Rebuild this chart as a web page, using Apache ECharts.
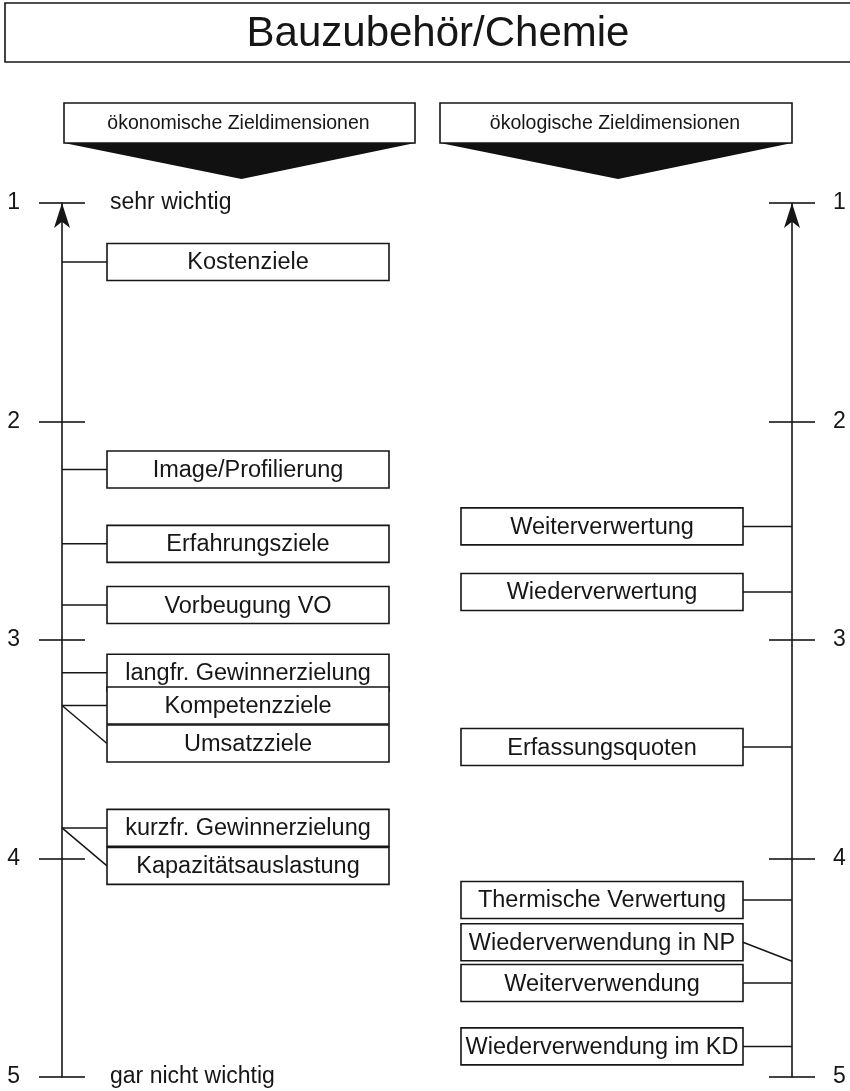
<!DOCTYPE html>
<html>
<head>
<meta charset="utf-8">
<script src="https://cdn.jsdelivr.net/npm/echarts@6.0.0/dist/echarts.min.js"></script>
<style>
  html, body { margin: 0; padding: 0; background: #fff; }
  #chart { width: 850px; height: 1091px; }
</style>
</head>
<body>
<div id="chart"></div>
<script>
const titleText = "Bauzubehör/Chemie";
const headerTexts = ["ökonomische Zieldimensionen", "ökologische Zieldimensionen"];
const tickLabels = ["1", "2", "3", "4", "5"];
const endLabels = ["sehr wichtig", "gar nicht wichtig"];

// ökonomische Ziele (linke Skala)
const econLabels = [
    "Kostenziele", "Image/Profilierung", "Erfahrungsziele", "Vorbeugung VO",
    "langfr. Gewinnerzielung", "Kompetenzziele", "Umsatzziele",
    "kurzfr. Gewinnerzielung", "Kapazitätsauslastung",
];
const econValues = [1.27, 2.22, 2.56, 2.84, 3.15, 3.30, 3.30, 3.86, 3.86];

// ökologische Ziele (rechte Skala)
const ecoLabels = [
    "Weiterverwertung", "Wiederverwertung", "Erfassungsquoten", "Thermische Verwertung",
    "Wiederverwendung in NP", "Weiterverwendung", "Wiederverwendung im KD",
];
const ecoValues = [2.48, 2.78, 3.49, 4.19, 4.47, 4.57, 4.86];

// layout only: box shift in box heights when labels share a value
const econBoxShift = [0, 0, 0, 0, 0, 0, 1, 0, 1];
const ecoBoxShift = [0, 0, 0, 0, -0.5, 0, 0];

const FONT = "Liberation Sans, Arial, Helvetica, sans-serif";
const INK = "#161616";
const BOX_W = 282;
const BOX_H = 37;
const BOX_STEP = 38;

function sideSeries(labels, values, shifts, side) {
    const left = side === "left";
    return {
        type: "custom",
        coordinateSystem: "cartesian2d",
        xAxisIndex: 0,
        yAxisIndex: left ? 0 : 2,
        silent: true,
        data: values.map((v, i) => [left ? 0 : 1, v, i]),
        renderItem: (params, api) => {
            const i = api.value(2);
            const pt = api.coord([api.value(0), api.value(1)]);
            const cy = pt[1] + shifts[i] * BOX_STEP;
            const x0 = left ? pt[0] + 45 : pt[0] - 331;
            const edgeX = left ? x0 : x0 + BOX_W;
            return {
                type: "group",
                children: [
                    {
                        type: "line",
                        shape: { x1: pt[0], y1: pt[1], x2: edgeX, y2: cy },
                        style: { stroke: INK, lineWidth: 1.5 },
                    },
                    {
                        type: "rect",
                        shape: { x: x0, y: cy - BOX_H / 2, width: BOX_W, height: BOX_H },
                        style: { fill: "#fff", stroke: INK, lineWidth: 1.6 },
                    },
                    {
                        type: "text",
                        x: x0 + BOX_W / 2,
                        y: cy + 1,
                        style: {
                            text: labels[i],
                            align: "center",
                            verticalAlign: "middle",
                            fontFamily: FONT,
                            fontSize: 23.5,
                            fill: INK,
                        },
                    },
                ],
            };
        },
    };
}

function scaleAxis(position, inside, withLine) {
    return {
        type: "value",
        position: position,
        inverse: true,
        min: 1,
        max: 5,
        interval: 1,
        splitLine: { show: false },
        axisLine: {
            show: withLine,
            lineStyle: { color: INK, width: 1.6 },
            symbol: ["none", "arrow"],
            symbolSize: [12, 25],
            symbolOffset: [0, 0],
        },
        axisTick: {
            show: true,
            inside: inside,
            length: 23,
            lineStyle: { color: INK, width: 1.6 },
        },
        axisLabel: { show: false },
    };
}

const leftOuter = scaleAxis("left", false, true);
leftOuter.axisLabel = {
    show: true, margin: 42, color: INK, fontFamily: FONT, fontSize: 23,
    formatter: (v) => tickLabels[Math.round(v) - 1],
};
const leftInner = scaleAxis("left", true, false);
leftInner.axisLabel = {
    show: true, inside: true, margin: 48, color: INK, fontFamily: FONT, fontSize: 23,
    formatter: (v) => (v === 1 ? endLabels[0] : v === 5 ? endLabels[1] : ""),
};
const rightOuter = scaleAxis("right", false, true);
rightOuter.axisLabel = {
    show: true, margin: 41, color: INK, fontFamily: FONT, fontSize: 23,
    formatter: (v) => tickLabels[Math.round(v) - 1],
};
const rightInner = scaleAxis("right", true, false);

function header(x0, x1, text) {
    const mid = (x0 + x1) / 2;
    return [
        {
            type: "polygon",
            shape: { points: [[x0, 143], [x1, 143], [mid + 2, 179]] },
            style: { fill: "#111" },
        },
        {
            type: "rect",
            shape: { x: x0, y: 103, width: x1 - x0, height: 40 },
            style: { fill: "#fff", stroke: INK, lineWidth: 1.6 },
        },
        {
            type: "text",
            x: mid - 1,
            y: 124,
            style: {
                text: text, align: "center", verticalAlign: "middle",
                fontFamily: FONT, fontSize: 19.5, fill: INK,
            },
        },
    ];
}

const chart = echarts.init(document.getElementById("chart"));
chart.setOption({
    animation: false,
    backgroundColor: "#fff",
    grid: { left: 62, right: 58, top: 203, bottom: 14, containLabel: false },
    xAxis: { type: "value", min: 0, max: 1, show: false },
    yAxis: [leftOuter, leftInner, rightOuter, rightInner],
    graphic: [
        {
            type: "rect",
            shape: { x: 5, y: 3, width: 870, height: 59 },
            style: { fill: "#fff", stroke: INK, lineWidth: 1.6 },
        },
        {
            type: "text",
            x: 438,
            y: 34,
            style: {
                text: titleText, align: "center", verticalAlign: "middle",
                fontFamily: FONT, fontSize: 42, fill: INK,
            },
        },
        ...header(64, 415, headerTexts[0]),
        ...header(440, 792, headerTexts[1]),
    ],
    series: [
        sideSeries(econLabels, econValues, econBoxShift, "left"),
        sideSeries(ecoLabels, ecoValues, ecoBoxShift, "right"),
    ],
});

window.addEventListener("resize", () => chart.resize());
</script>
</body>
</html>
